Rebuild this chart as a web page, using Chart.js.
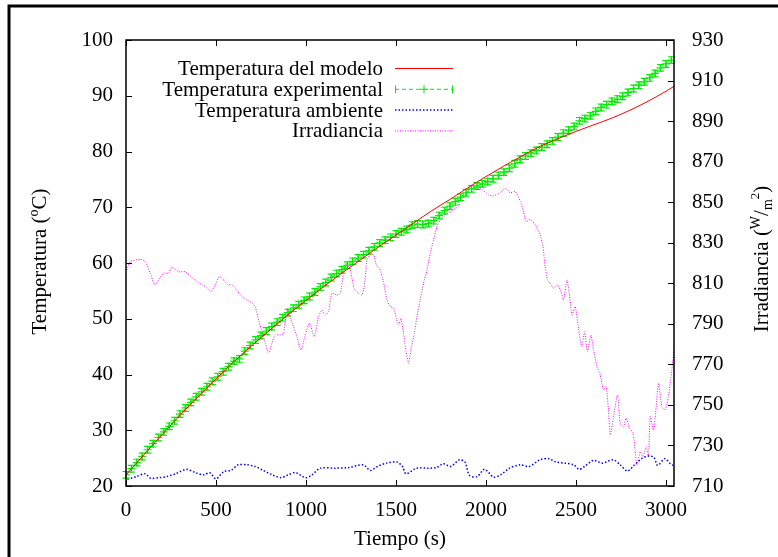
<!DOCTYPE html>
<html>
<head>
<meta charset="utf-8">
<script src="https://cdn.jsdelivr.net/npm/chart.js@4/dist/chart.umd.min.js"></script>
<style>
body { margin: 0; background: #fff; }
canvas { display: block; }
</style>
</head>
<body>
<canvas id="plot" width="778" height="557"></canvas>
<script>
const FONT = '"Liberation Serif", "Times New Roman", serif';

const xTicks = [0, 500, 1000, 1500, 2000, 2500, 3000];
const yTicks = [20, 30, 40, 50, 60, 70, 80, 90, 100];
const y2Ticks = [710, 730, 750, 770, 790, 810, 830, 850, 870, 890, 910, 930];

const seriesNames = ['Temperatura del modelo', 'Temperatura experimental', 'Temperatura ambiente', 'Irradiancia'];

// modelo
const modelTime = [0, 100, 200, 300, 400, 500, 600, 700, 800, 900, 1000, 1100, 1200, 1300, 1400, 1500,
	1600, 1700, 1800, 1900, 2000, 2100, 2200, 2300, 2400, 2500, 2600, 2700, 2800, 2900, 3000, 3045];
const modelTemp = [22.0, 25.6, 29.2, 32.7, 36.0, 39.2, 42.3, 45.2, 48.0, 50.7, 53.3, 55.8, 58.2, 60.5, 62.8, 65.0,
	67.2, 69.4, 71.4, 73.5, 75.5, 77.4, 79.2, 80.9, 82.3, 83.6, 84.8, 86.0, 87.4, 89.0, 90.8, 91.7];

// experimental
const expTime = [0, 30, 60, 90, 120, 150, 180, 210, 240, 270, 300, 330, 360, 390, 420, 450, 480, 510, 540, 570,
	600, 630, 660, 690, 720, 750, 780, 810, 840, 870, 900, 930, 960, 990, 1020, 1050, 1080, 1110, 1140, 1170,
	1200, 1230, 1260, 1290, 1320, 1350, 1380, 1410, 1440, 1470, 1500, 1530, 1560, 1590, 1620, 1650, 1680, 1710,
	1740, 1770, 1800, 1830, 1860, 1890, 1920, 1950, 1980, 2010, 2040, 2070, 2100, 2130, 2160, 2190, 2220, 2250,
	2280, 2310, 2340, 2370, 2400, 2430, 2460, 2490, 2520, 2550, 2580, 2610, 2640, 2670, 2700, 2730, 2760, 2790,
	2820, 2850, 2880, 2910, 2940, 2970, 3000, 3030];
const expTemp = [22.0, 23.1, 24.2, 25.3, 26.5, 27.6, 28.7, 29.7, 30.7, 31.7, 32.9, 34.0, 35.0, 36.0, 36.9, 37.8, 38.8, 39.6, 40.5, 41.4,
	42.4, 42.8, 44.2, 45.2, 46.2, 47.0, 47.8, 48.6, 49.4, 50.2, 51.1, 51.9, 52.5, 53.3, 54.0, 54.8, 55.7, 56.5, 57.4, 58.1,
	58.8, 59.6, 60.3, 60.9, 61.5, 62.2, 62.9, 63.6, 64.1, 64.6, 65.2, 65.6, 66.0, 66.8, 67.0, 66.9, 67.1, 67.6,
	68.5, 69.4, 70.2, 71.0, 71.8, 72.6, 73.3, 73.8, 74.2, 74.6, 75.1, 75.7, 76.3, 77.0, 77.8, 78.6, 79.2, 79.7,
	80.2, 80.8, 81.3, 81.9, 82.6, 83.3, 83.8, 84.5, 85.5, 85.9, 86.4, 87.2, 87.9, 88.4, 89.0, 89.4, 89.9, 90.6,
	91.3, 91.9, 92.5, 93.2, 94.0, 95.0, 95.7, 96.4];
const expErr = 0.6;

// ambiente
const ambTime = [8, 58, 107, 137, 187, 226, 276, 336, 385, 434, 464, 500, 544, 583, 623, 673, 718, 762, 812, 861,
	901, 941, 996, 1030, 1079, 1159, 1238, 1318, 1357, 1397, 1447, 1506, 1536, 1556, 1615, 1675, 1725, 1764, 1804,
	1853, 1883, 1909, 1952, 1992, 2042, 2082, 2131, 2191, 2240, 2300, 2349, 2389, 2438, 2488, 2518, 2548, 2597,
	2647, 2707, 2746, 2786, 2826, 2865, 2905, 2934, 2954, 2994, 3024, 3040];
const ambTemp = [21.2, 21.7, 22.2, 21.4, 21.5, 21.7, 22.2, 23.0, 22.4, 22.0, 22.4, 21.3, 22.6, 22.8, 23.8, 23.8, 23.5, 22.8, 22.0, 21.5,
	22.0, 22.4, 21.5, 21.9, 23.2, 23.2, 23.3, 23.8, 22.8, 23.5, 24.1, 24.3, 23.5, 22.2, 23.2, 23.2, 23.3, 24.0, 23.5,
	24.7, 24.3, 21.9, 21.7, 23.0, 21.6, 22.0, 23.2, 23.8, 23.5, 24.7, 24.9, 24.3, 24.1, 23.8, 23.0, 23.5, 24.6,
	24.1, 24.7, 23.8, 22.7, 23.8, 24.9, 25.4, 25.1, 23.7, 24.9, 24.0, 23.7];

// irradiancia
const irrTime = [5, 24, 80, 107, 135, 159, 181, 209, 237, 255, 292, 329, 357, 385, 422, 446, 472, 496, 520, 542,
	565, 589, 617, 644, 672, 700, 718, 737, 755, 774, 792, 811, 829, 857, 876, 894, 913, 931, 950, 972,
	996, 1020, 1046, 1070, 1089, 1107, 1126, 1144, 1172, 1191, 1209, 1224, 1246, 1268, 1292, 1311, 1324, 1339, 1357, 1376,
	1391, 1409, 1428, 1450, 1469, 1487, 1502, 1515, 1528, 1542, 1557, 1570, 1583, 1602, 1617, 1635, 1653, 1672, 1691, 1709,
	1728, 1746, 1768, 1783, 1806, 1829, 1848, 1867, 1894, 1913, 1940, 1968, 2015, 2042, 2080, 2107, 2135, 2163, 2191, 2209,
	2224, 2246, 2274, 2302, 2317, 2329, 2342, 2357, 2376, 2398, 2417, 2431, 2450, 2463, 2478, 2496, 2514, 2533, 2548, 2564,
	2583, 2598, 2617, 2635, 2653, 2668, 2681, 2691, 2709, 2731, 2746, 2764, 2779, 2798, 2817, 2829, 2839, 2857, 2872, 2891,
	2903, 2913, 2931, 2946, 2959, 2978, 2996, 3014, 3033, 3046];
const irrValue = [816.6, 820.7, 821.8, 820.7, 815.0, 809.2, 811.6, 815.0, 815.0, 817.9, 815.7, 815.7, 813.6, 811.6, 809.2, 808.3, 805.9, 809.2, 813.3, 811.6,
	809.2, 809.2, 806.4, 803.4, 801.8, 800.4, 798.5, 791.9, 786.1, 780.4, 775.5, 780.4, 784.5, 784.5, 785.3, 797.7, 792.7, 788.6, 783.6, 777.1,
	784.5, 790.3, 783.6, 793.5, 796.8, 794.4, 796.0, 805.1, 804.2, 805.1, 815.0, 819.9, 816.6, 807.5, 805.1, 804.2, 808.3, 821.5, 824.0, 824.0,
	819.0, 817.4, 811.6, 801.8, 798.5, 797.7, 792.7, 789.4, 792.7, 785.3, 776.3, 770.5, 777.1, 785.3, 793.5, 801.8, 810.0, 816.6, 824.8, 831.4,
	837.9, 841.2, 842.9, 844.5, 845.3, 847.0, 847.8, 852.7, 854.4, 857.7, 857.3, 856.9, 853.6, 853.1, 854.7, 856.9, 854.7, 855.2, 850.3, 845.3,
	840.4, 841.6, 838.8, 833.8, 828.1, 818.2, 811.6, 810.0, 807.5, 809.2, 805.9, 801.8, 811.6, 805.1, 794.4, 798.5, 787.8, 778.7, 786.1, 776.3,
	784.5, 777.1, 768.9, 764.8, 757.4, 759.0, 747.5, 735.2, 744.2, 754.9, 740.9, 739.3, 743.4, 738.5, 736.0, 727.8, 720.4, 726.9, 724.5, 729.4,
	724.5, 744.2, 737.6, 749.1, 760.7, 749.1, 747.5, 754.0, 767.2, 778.7];

const toXY = (xs, ys) => xs.map((x, i) => ({x: x, y: ys[i]}));
const fixedTicks = list => scale => { scale.ticks = list.map(v => ({value: v})); };
const plainLabel = v => String(v);
const tickFont = {family: FONT, size: 21};

// rich text: [texto, tamaño, desplazamiento]
function drawRich(ctx, parts, cx, cy, rotate) {
	ctx.save();
	ctx.translate(cx, cy);
	if (rotate) ctx.rotate(-Math.PI / 2);
	let w = 0;
	parts.forEach(p => { ctx.font = p[1] + 'px ' + FONT; w += ctx.measureText(p[0]).width; });
	let pos = -w / 2;
	ctx.fillStyle = '#000';
	ctx.textAlign = 'left';
	ctx.textBaseline = 'alphabetic';
	parts.forEach(p => {
		ctx.font = p[1] + 'px ' + FONT;
		ctx.fillText(p[0], pos, p[2]);
		pos += ctx.measureText(p[0]).width;
	});
	ctx.restore();
}

const errorBars = {
	id: 'errorBars',
	afterDatasetDraw(chart, args) {
		if (args.index !== 1) return;
		const ctx = chart.ctx, ys = chart.scales.y;
		ctx.save();
		ctx.strokeStyle = '#00ee00';
		ctx.lineWidth = 1.2;
		ctx.beginPath();
		args.meta.data.forEach((pt, i) => {
			const top = ys.getPixelForValue(expTemp[i] + expErr);
			const bot = ys.getPixelForValue(expTemp[i] - expErr);
			ctx.moveTo(pt.x, top); ctx.lineTo(pt.x, bot);
			ctx.moveTo(pt.x - 3.5, top); ctx.lineTo(pt.x + 3.5, top);
			ctx.moveTo(pt.x - 3.5, bot); ctx.lineTo(pt.x + 3.5, bot);
		});
		ctx.stroke();
		ctx.restore();
	}
};

const decorations = {
	id: 'decorations',
	afterDraw(chart) {
		const ctx = chart.ctx, a = chart.chartArea;
		const sx = chart.scales.x, sy = chart.scales.y, sy2 = chart.scales.y2;
		ctx.save();
		ctx.strokeStyle = '#000';
		ctx.lineWidth = 1;
		ctx.beginPath();
		xTicks.forEach(v => {
			const px = Math.round(sx.getPixelForValue(v)) + 0.5;
			ctx.moveTo(px, a.bottom); ctx.lineTo(px, a.bottom - 6);
			ctx.moveTo(px, a.top); ctx.lineTo(px, a.top + 6);
		});
		yTicks.forEach(v => {
			const py = Math.round(sy.getPixelForValue(v)) + 0.5;
			ctx.moveTo(a.left, py); ctx.lineTo(a.left + 6, py);
		});
		y2Ticks.forEach(v => {
			const py = Math.round(sy2.getPixelForValue(v)) + 0.5;
			ctx.moveTo(a.right, py); ctx.lineTo(a.right - 6, py);
		});
		ctx.stroke();
		ctx.lineWidth = 1.5;
		ctx.strokeRect(a.left, a.top, a.right - a.left, a.bottom - a.top);

		// marco exterior
		ctx.lineWidth = 3;
		ctx.beginPath();
		ctx.moveTo(9, 557); ctx.lineTo(9, 6); ctx.lineTo(778, 6);
		ctx.stroke();

		// leyenda
		chart.data.datasets.forEach((ds, i) => {
			const y = 68.5 + i * 20.8;
			ctx.font = '21px ' + FONT;
			ctx.fillStyle = '#000';
			ctx.textAlign = 'right';
			ctx.textBaseline = 'middle';
			ctx.fillText(ds.label, 383, y + 1);
			ctx.strokeStyle = ds.borderColor;
			ctx.lineWidth = ds.borderWidth;
			ctx.setLineDash(ds.borderDash || []);
			ctx.beginPath(); ctx.moveTo(395, y); ctx.lineTo(453, y); ctx.stroke();
			ctx.setLineDash([]);
			if (i === 1) {
				ctx.lineWidth = 1;
				ctx.beginPath();
				ctx.moveTo(395.5, y - 4); ctx.lineTo(395.5, y + 4);
				ctx.moveTo(452.5, y - 4); ctx.lineTo(452.5, y + 4);
				ctx.moveTo(424, y - 4); ctx.lineTo(424, y + 4);
				ctx.moveTo(420, y); ctx.lineTo(428, y);
				ctx.stroke();
			}
		});
		ctx.restore();

		drawRich(ctx, [['Temperatura (', 21, 0], ['o', 14, -8], ['C)', 21, 0]], 46, 261.5, true);
		drawRich(ctx, [['Irradiancia (', 21, 0], ['W', 14, -8], ['/', 21, 0], ['m', 14, 4], ['2', 13, -9], [')', 21, 0]], 768, 259, true);
		drawRich(ctx, [['Tiempo (s)', 21, 0]], 400, 545, false);
	}
};

const plotConfig = {
	type: 'line',
	data: {
		datasets: [{
			label: seriesNames[0],
			data: toXY(modelTime, modelTemp),
			borderColor: '#ff0000',
			borderWidth: 1,
			pointRadius: 0,
			cubicInterpolationMode: 'monotone',
			yAxisID: 'y',
		}, {
			label: seriesNames[1],
			data: toXY(expTime, expTemp),
			borderColor: '#00ee00',
			borderWidth: 1,
			borderDash: [4, 3],
			pointStyle: 'cross',
			pointRadius: 4,
			pointBorderWidth: 1.2,
			pointBorderColor: '#00ee00',
			yAxisID: 'y',
		}, {
			label: seriesNames[2],
			data: toXY(ambTime, ambTemp),
			borderColor: '#0000ff',
			borderWidth: 1.5,
			borderDash: [1.5, 2],
			pointRadius: 0,
			tension: 0.3,
			yAxisID: 'y',
		}, {
			label: seriesNames[3],
			data: toXY(irrTime, irrValue),
			borderColor: '#ff00ff',
			borderWidth: 1,
			borderDash: [1, 1.5],
			pointRadius: 0,
			tension: 0.2,
			yAxisID: 'y2',
		}]
	},
	options: {
		responsive: false,
		animation: false,
		layout: { padding: { top: 40, left: 0, right: 0, bottom: 0 } },
		plugins: {
			legend: { display: false },
			tooltip: { enabled: false },
		},
		scales: {
			x: {
				type: 'linear',
				min: 0,
				max: 3045,
				afterBuildTicks: fixedTicks(xTicks),
				afterFit: s => { s.height = 71; },
				grid: { display: false, drawTicks: false },
				border: { display: false },
				ticks: { font: tickFont, color: '#000', padding: 12, maxRotation: 0, autoSkip: false, callback: plainLabel },
			},
			y: {
				position: 'left',
				min: 20,
				max: 100,
				afterBuildTicks: fixedTicks(yTicks),
				afterFit: s => { s.width = 126; },
				grid: { display: false, drawTicks: false },
				border: { display: false },
				ticks: { font: tickFont, color: '#000', padding: 13, callback: plainLabel },
			},
			y2: {
				position: 'right',
				min: 710,
				max: 930,
				afterBuildTicks: fixedTicks(y2Ticks),
				afterFit: s => { s.width = 104; },
				grid: { display: false, drawTicks: false },
				border: { display: false },
				ticks: { font: tickFont, color: '#000', padding: 18, callback: plainLabel },
			},
		},
	},
	plugins: [errorBars, decorations],
};

const plotCtx = document.getElementById('plot');
const plot = new Chart(plotCtx, plotConfig);
</script>
</body>
</html>
